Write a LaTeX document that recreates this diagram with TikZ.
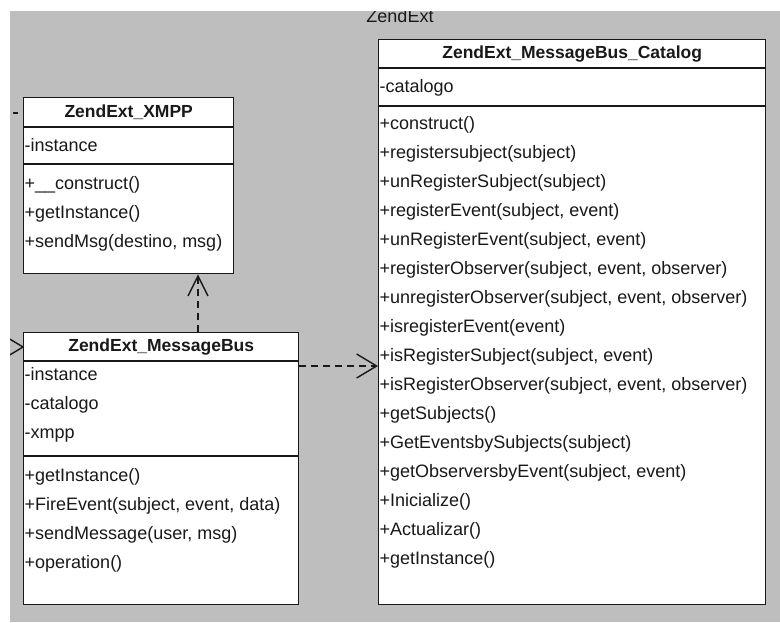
\documentclass[tikz,border=0pt]{standalone}
\usepackage{fontspec}
\setmainfont{Liberation Sans}
\usetikzlibrary{arrows.meta}
\definecolor{pkg}{RGB}{190,190,190}
\definecolor{ink}{RGB}{25,25,25}
\begin{document}
\begin{tikzpicture}[x=1pt,y=-1pt,
  classbox/.style={draw=ink, line width=1.4pt, fill=white, anchor=north west, inner sep=0pt},
  divider/.style={draw=ink, line width=1.4pt},
  member/.style={anchor=west, inner sep=0pt, text=ink, text height=13pt, text depth=4pt,
                 font=\fontsize{18}{20}\selectfont},
  ctitle/.style={inner sep=0pt, text=ink, text height=13pt, text depth=4pt,
                 font=\fontsize{17.5}{20}\selectfont\bfseries},
  dep/.style={draw=ink, line width=1.4pt, dash pattern=on 7pt off 5pt,
              -{Straight Barb[length=20pt,width=24pt]}},
  depv/.style={draw=ink, line width=1.4pt, dash pattern=on 7pt off 5pt,
              -{Straight Barb[length=20pt,width=20pt]}},
  pkglabel/.style={anchor=base, inner sep=0pt, text=ink, font=\fontsize{18}{20}\selectfont}
]
\useasboundingbox (0,0) rectangle (780,622);
\fill[white] (0,0) rectangle (780,622);
\fill[pkg] (10,11) rectangle (780,622);
\node[pkglabel] (pkgname) at (400,22) {ZendExt};
\fill[white] (0,0) rectangle (780,11);

% ---------- ZendExt_XMPP ----------
\node[classbox, minimum width=210pt, minimum height=176pt] (xmpp) at (23,97) {};
\draw[divider] (xmpp.west |- 0,127) -- (xmpp.east |- 0,127);
\draw[divider] (xmpp.west |- 0,164) -- (xmpp.east |- 0,164);
\node[ctitle] (xmppT) at (xmpp.north |- 0,113) {ZendExt\_XMPP};
\node[member] (xa1) at (24.5,147) {-instance};
\node[member] (xm1) at (24.5,185) {+\_\_construct()};
\node[member] (xm2) at (24.5,214) {+getInstance()};
\node[member] (xm3) at (24.5,243) {+sendMsg(destino, msg)};

% ---------- ZendExt_MessageBus ----------
\node[classbox, minimum width=275pt, minimum height=272pt] (mb) at (23,332) {};
\draw[divider] (mb.west |- 0,361) -- (mb.east |- 0,361);
\draw[divider] (mb.west |- 0,456) -- (mb.east |- 0,456);
\node[ctitle] (mbT) at (mb.north |- 0,347) {ZendExt\_MessageBus};
\node[member] (ma1) at (24.5,376) {-instance};
\node[member] (ma2) at (24.5,405) {-catalogo};
\node[member] (ma3) at (24.5,434) {-xmpp};
\node[member] (mm1) at (24.5,477) {+getInstance()};
\node[member] (mm2) at (24.5,506) {+FireEvent(subject, event, data)};
\node[member] (mm3) at (24.5,535) {+sendMessage(user, msg)};
\node[member] (mm4) at (24.5,564) {+operation()};

% ---------- ZendExt_MessageBus_Catalog ----------
\node[classbox, minimum width=387pt, minimum height=565pt] (cat) at (378,39) {};
\draw[divider] (cat.west |- 0,68) -- (cat.east |- 0,68);
\draw[divider] (cat.west |- 0,106) -- (cat.east |- 0,106);
\node[ctitle] (catT) at (cat.north |- 0,54) {ZendExt\_MessageBus\_Catalog};
\node[member] (ca1) at (379.5,88) {-catalogo};
\node[member] (c1)  at (379.5,125) {+construct()};
\node[member] (c2)  at (379.5,154) {+registersubject(subject)};
\node[member] (c3)  at (379.5,183) {+unRegisterSubject(subject)};
\node[member] (c4)  at (379.5,212) {+registerEvent(subject, event)};
\node[member] (c5)  at (379.5,241) {+unRegisterEvent(subject, event)};
\node[member] (c6)  at (379.5,270) {+registerObserver(subject, event, observer)};
\node[member] (c7)  at (379.5,299) {+unregisterObserver(subject, event, observer)};
\node[member] (c8)  at (379.5,328) {+isregisterEvent(event)};
\node[member] (c9)  at (379.5,357) {+isRegisterSubject(subject, event)};
\node[member] (c10) at (379.5,386) {+isRegisterObserver(subject, event, observer)};
\node[member] (c11) at (379.5,415) {+getSubjects()};
\node[member] (c12) at (379.5,444) {+GetEventsbySubjects(subject)};
\node[member] (c13) at (379.5,473) {+getObserversbyEvent(subject, event)};
\node[member] (c14) at (379.5,502) {+Inicialize()};
\node[member] (c15) at (379.5,531) {+Actualizar()};
\node[member] (c16) at (379.5,560) {+getInstance()};

% ---------- connectors ----------
\draw[depv] (mb.north -| 198,0) -- (xmpp.south -| 198,0);
\draw[dep] (mb.east |- 0,366) -- (cat.west |- 0,366);

% partial connectors coming from outside the view
\coordinate (xin) at (13,113);
\draw[draw=ink, line width=1.4pt, dash pattern=on 5pt off 5pt] (xin) -- (xmpp.west |- 0,113);
\coordinate (mbin) at (mb.west |- 0,347);
\begin{scope}
  \clip (10,11) rectangle (780,622);
  \draw[draw=ink, line width=1.4pt] (mbin) ++(-20,-12) -- (mbin) -- ++(-20,12);
\end{scope}
\end{tikzpicture}
\end{document}
